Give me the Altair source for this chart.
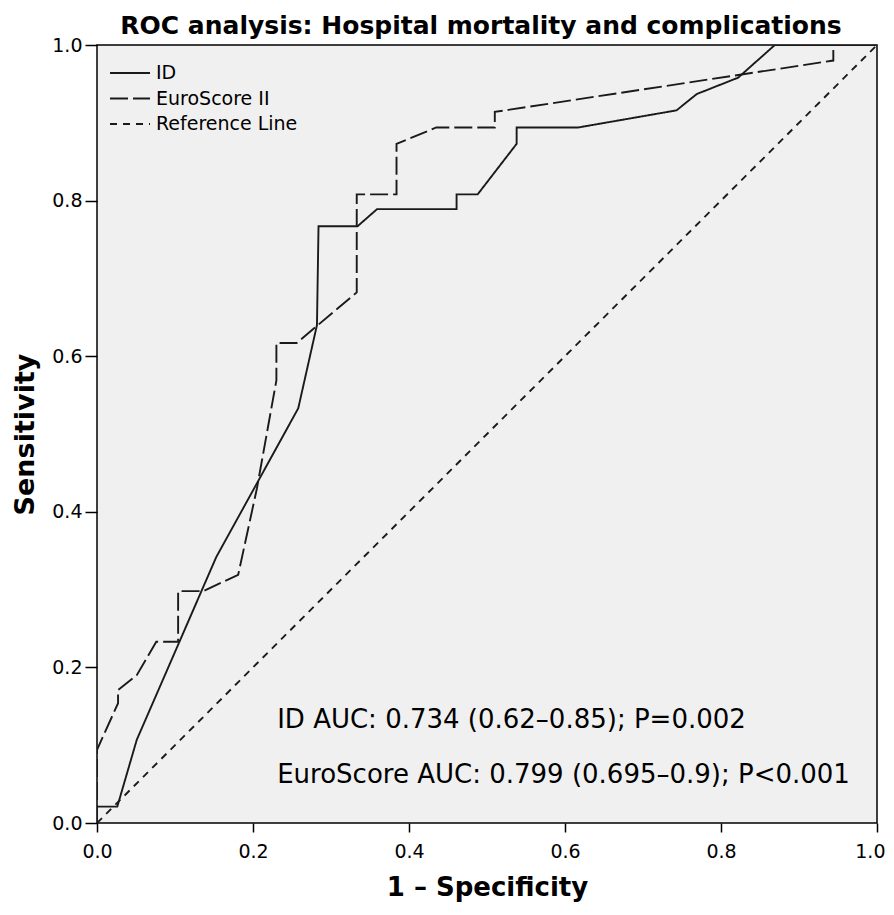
import altair as alt
import pandas as pd

# ---- data ----
id_x = [0.0, 0.0, 0.026, 0.051, 0.153, 0.258, 0.282, 0.284, 0.334, 0.359, 0.461, 0.461,
        0.488, 0.538, 0.538, 0.617, 0.743, 0.769, 0.822, 0.869, 1.0]
id_y = [0.0, 0.021, 0.021, 0.107, 0.342, 0.533, 0.640, 0.767, 0.767, 0.789, 0.789, 0.808,
        0.808, 0.873, 0.894, 0.894, 0.916, 0.937, 0.958, 1.0, 1.0]

euro_x = [0.0, 0.0, 0.027, 0.027, 0.051, 0.076, 0.104, 0.104, 0.136, 0.181, 0.205, 0.230,
          0.230, 0.256, 0.333, 0.333, 0.384, 0.384, 0.435, 0.510, 0.510, 0.944, 0.944, 1.0]
euro_y = [0.0, 0.094, 0.154, 0.171, 0.190, 0.233, 0.233, 0.298, 0.298, 0.319, 0.430, 0.569,
          0.617, 0.617, 0.682, 0.808, 0.808, 0.873, 0.894, 0.894, 0.914, 0.980, 1.0, 1.0]

ref_x = [0.0, 1.0]
ref_y = [0.0, 1.0]

series_names = ["ID", "EuroScore II", "Reference Line"]
dash_styles = [[1, 0], [18, 5], [7, 6]]

tick_values = [0.0, 0.2, 0.4, 0.6, 0.8, 1.0]

annot_text = ["ID AUC: 0.734 (0.62–0.85); P=0.002",
              "EuroScore AUC: 0.799 (0.695–0.9); P<0.001"]
annot_x = [0.231, 0.231]
annot_y = [0.132, 0.062]

# ---- build tables ----
rows = []
for name, xs, ys in [("ID", id_x, id_y), ("EuroScore II", euro_x, euro_y),
                     ("Reference Line", ref_x, ref_y)]:
    for i, (x, y) in enumerate(zip(xs, ys)):
        rows.append({"series": name, "x": x, "y": y, "order": i})
df = pd.DataFrame(rows)
ann = pd.DataFrame({"text": annot_text, "x": annot_x, "y": annot_y})

label_font = "DejaVu Sans"
bold_font = "DejaVu Sans"

xscale = alt.Scale(domain=[0, 1], nice=False, zero=False)
yscale = alt.Scale(domain=[0, 1], nice=False, zero=False)

last_label_align = {"condition": {"test": "datum.value >= 1", "value": "right"},
                    "value": "center"}
last_label_offset = {"condition": {"test": "datum.value >= 1", "value": 8},
                     "value": 0}

lines = alt.Chart(df).mark_line(strokeWidth=1.9, color="#1a1a1a", clip=True).encode(
    x=alt.X("x:Q", scale=xscale,
            axis=alt.Axis(values=tick_values, format=".1f", title="1 – Specificity",
                          domain=False, grid=False, tickColor="black", tickSize=9,
                          tickWidth=1.5, labelFont=label_font, labelFontSize=19,
                          labelColor="black", labelPadding=10, labelFlush=False,
                          labelOverlap=False, labelAlign=last_label_align,
                          labelOffset=last_label_offset, titleFont=bold_font,
                          titleFontSize=26, titleFontWeight="bold", titleColor="black",
                          titlePadding=13)),
    y=alt.Y("y:Q", scale=yscale,
            axis=alt.Axis(values=tick_values, format=".1f", title="Sensitivity",
                          domain=False, grid=False, tickColor="black", tickSize=12,
                          tickWidth=1.5, labelFont=label_font, labelFontSize=19,
                          labelColor="black", labelPadding=3, labelFlush=False,
                          labelOverlap=False, titleFont=bold_font,
                          titleFontSize=27, titleFontWeight="bold", titleColor="black",
                          titlePadding=12)),
    strokeDash=alt.StrokeDash("series:N",
                              scale=alt.Scale(domain=series_names, range=dash_styles),
                              legend=alt.Legend(title=None, orient="none", legendX=12,
                                                legendY=16, symbolType="stroke",
                                                symbolSize=1600, symbolStrokeWidth=2,
                                                symbolStrokeColor="#1a1a1a",
                                                labelFont=label_font, labelFontSize=19,
                                                labelColor="black", rowPadding=1.5,
                                                clipHeight=24, labelOffset=5)),
    order="order:Q",
)

texts = alt.Chart(ann).mark_text(align="left", baseline="middle", fontSize=26,
                                 font="DejaVu Sans", color="black").encode(
    x=alt.X("x:Q", scale=xscale), y=alt.Y("y:Q", scale=yscale), text="text:N")

chart = alt.layer(lines, texts).properties(
    width=780, height=778,
    title=alt.TitleParams("ROC analysis: Hospital mortality and complications",
                          font=bold_font, fontSize=25, fontWeight="bold",
                          color="black", anchor="middle", frame="group",
                          offset=-3, dx=-6),
    autosize=alt.AutoSizeParams(type="none"),
    padding={"left": 89, "top": 37, "right": 9, "bottom": 84},
).configure_view(fill="#f0f0f0", stroke="black", strokeWidth=1.5)

chart.save("out.html", embed_options={"renderer": "svg", "actions": False})
